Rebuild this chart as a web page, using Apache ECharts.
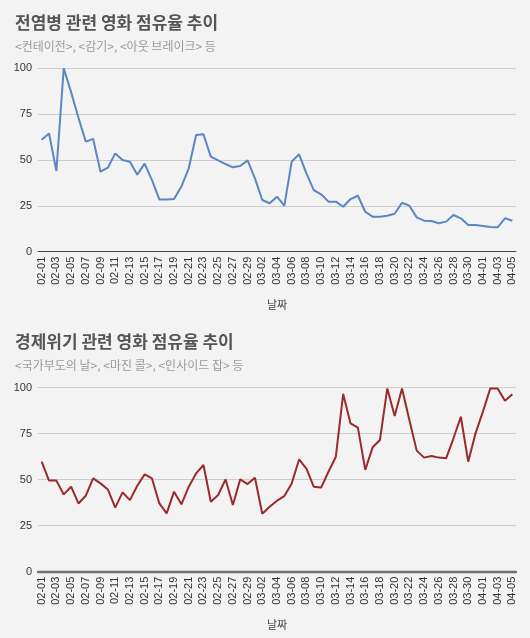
<!DOCTYPE html>
<html>
<head>
<meta charset="utf-8">
<script src="https://cdn.jsdelivr.net/npm/echarts@6/dist/echarts.min.js"></script>
<style>
html,body{margin:0;padding:0;background:#f3f3f3;}
#chart{width:530px;height:638px;}
</style>
</head>
<body>
<div id="chart"></div>
<script>
const dates = [
 "02-01","02-02","02-03","02-04","02-05","02-06","02-07","02-08","02-09","02-10",
 "02-11","02-12","02-13","02-14","02-15","02-16","02-17","02-18","02-19","02-20",
 "02-21","02-22","02-23","02-24","02-25","02-26","02-27","02-28","02-29",
 "03-01","03-02","03-03","03-04","03-05","03-06","03-07","03-08","03-09","03-10",
 "03-11","03-12","03-13","03-14","03-15","03-16","03-17","03-18","03-19","03-20",
 "03-21","03-22","03-23","03-24","03-25","03-26","03-27","03-28","03-29","03-30","03-31",
 "04-01","04-02","04-03","04-04","04-05"
];
const epidemicShare = [
 61, 64.5, 44, 100, 87, 73, 60, 61.5, 43.6, 45.8,
 53.6, 50, 49, 42, 48, 39, 28.5, 28.5, 28.7, 35.5,
 45.5, 63.6, 64, 51.8, 49.8, 47.8, 46, 46.7, 49.8,
 40, 28.2, 26.4, 30, 25.1, 49.1, 53.1, 42.7, 33.6, 31.3,
 27.3, 27.3, 24.5, 28.7, 30.5, 21.8, 19.1, 19.1, 19.6, 20.7,
 26.7, 25.1, 18.7, 16.9, 16.7, 15.5, 16.4, 20, 18.2, 14.5, 14.5,
 14, 13.5, 13.3, 18.2, 16.9
];
const crisisShare = [
 59.8, 49.5, 49.5, 42, 46.2, 37.1, 41.3, 50.7, 48, 44.7,
 34.8, 43.1, 38.9, 46.7, 52.9, 50.7, 37.1, 31.7, 43.5, 36.6,
 46.2, 53.4, 58, 38, 41.7, 50.2, 36.2, 50.2, 47.6,
 51.1, 31.5, 35.3, 38.6, 41.1, 48, 61, 56, 46.2, 45.7,
 54.3, 62.5, 96.6, 80.6, 78.3, 55.3, 67.6, 71.6, 99.6, 84.6,
 99.6, 82.4, 65.8, 62, 62.9, 62, 61.6, 72.5, 84.2, 59.8, 75.2,
 87, 99.6, 99.6, 92.9, 96.4
];
const yTicks = [0, 25, 50, 75, 100];
const titles = ["전염병 관련 영화 점유율 추이", "경제위기 관련 영화 점유율 추이"];
const subtitles = ["<컨테이전>, <감기>, <아웃 브레이크> 등", "<국가부도의 날>, <마진 콜>, <인사이드 잡> 등"];
const xName = "날짜";

const numFont = "'Liberation Sans', Arial, 'Noto Sans CJK KR', sans-serif";
const krFont = "'Noto Sans CJK KR', 'Liberation Sans', sans-serif";

function xAx(gi, axisColor, axisWidth) {
  return {
    type: 'category', gridIndex: gi, data: dates, boundaryGap: true,
    axisLine: {show: true, lineStyle: {color: axisColor, width: axisWidth}},
    axisTick: {show: false},
    axisLabel: {interval: 1, rotate: 90, margin: 5, fontSize: 11, color: '#333', fontFamily: numFont},
    name: xName, nameLocation: 'middle', nameGap: 48,
    nameTextStyle: {fontSize: 11, color: '#444', fontFamily: krFont}
  };
}
function yAx(gi) {
  return {
    type: 'value', gridIndex: gi, min: yTicks[0], max: yTicks[yTicks.length-1], interval: 25,
    axisLine: {show: false}, axisTick: {show: false},
    axisLabel: {margin: 6, fontSize: 11, color: '#333', fontFamily: numFont},
    splitLine: {lineStyle: {color: '#cdcdcd', width: 1}}
  };
}

const chart = echarts.init(document.getElementById('chart'), null, {renderer: 'canvas'});
chart.setOption({
  backgroundColor: '#f3f3f3',
  animation: false,
  title: [
    {text: titles[0], left: 15, top: 14, padding: 0, textStyle: {fontSize: 17, fontWeight: 'bold', color: '#555', fontFamily: krFont}},
    {text: subtitles[0], left: 15, top: 40, padding: 0, textStyle: {fontSize: 12, fontWeight: 'normal', color: '#9a9a9a', fontFamily: krFont}},
    {text: titles[1], left: 15, top: 333, padding: 0, textStyle: {fontSize: 17, fontWeight: 'bold', color: '#555', fontFamily: krFont}},
    {text: subtitles[1], left: 15, top: 359, padding: 0, textStyle: {fontSize: 12, fontWeight: 'normal', color: '#9a9a9a', fontFamily: krFont}}
  ],
  grid: [
    {left: 38, right: 14, top: 68.3, height: 183.4},
    {left: 38, right: 14, top: 387.7, height: 184}
  ],
  xAxis: [xAx(0, '#444', 1), xAx(1, '#707070', 2.3)],
  yAxis: [yAx(0), yAx(1)],
  series: [
    {type: 'line', xAxisIndex: 0, yAxisIndex: 0, data: epidemicShare, symbol: 'none',
     lineStyle: {color: '#5a86c4', width: 2}},
    {type: 'line', xAxisIndex: 1, yAxisIndex: 1, data: crisisShare, symbol: 'none',
     lineStyle: {color: '#9b2a2a', width: 2}}
  ]
});
</script>
</body>
</html>
